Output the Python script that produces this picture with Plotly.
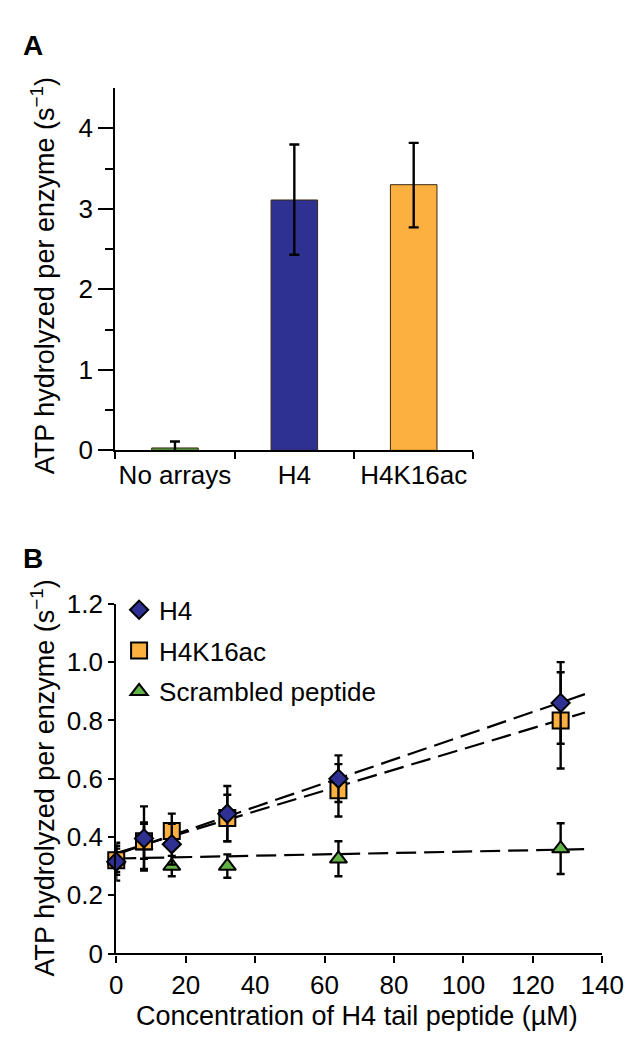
import plotly.graph_objects as go

W, H = 644, 1045

# ---------------- Panel A data ----------------
cat_a = ["No arrays", "H4", "H4K16ac"]
val_a = [0.03, 3.11, 3.30]
err_a_plus = [0.08, 0.69, 0.52]
err_a_minus = [0.08, 0.68, 0.53]
col_a = ["#4f9a3f", "#2e3192", "#fbb040"]
ytick_a_vals = [0, 1, 2, 3, 4]
ytick_a_text = ["0", "1", "2", "3", "4"]
ytick_a_minor = [0.5, 1.5, 2.5, 3.5]

# ---------------- Panel B data ----------------
conc = [0, 8, 16, 32, 64, 128]
h4_val = [0.315, 0.395, 0.375, 0.480, 0.600, 0.860]
h4_err = [0.065, 0.110, 0.070, 0.095, 0.080, 0.140]
ac_val = [0.320, 0.385, 0.420, 0.465, 0.560, 0.800]
ac_err = [0.050, 0.060, 0.060, 0.080, 0.090, 0.165]
sc_val = [0.320, 0.370, 0.300, 0.300, 0.325, 0.360]
sc_err = [0.040, 0.080, 0.035, 0.040, 0.060, 0.087]
series_names = ["H4", "H4K16ac", "Scrambled peptide"]
series_colors = ["#2e3192", "#fbb040", "#62b346"]
series_symbols = ["diamond", "square", "triangle-up"]
series_sizes = [14, 16, 15]
# fitted trend lines: value at x=0 and x=135
trend_x = [0, 135]
trend_h4 = [0.340, 0.890]
trend_ac = [0.345, 0.827]
trend_sc = [0.326, 0.358]
xtick_b = [0, 20, 40, 60, 80, 100, 120, 140]
ytick_b_vals = [0, 0.2, 0.4, 0.6, 0.8, 1.0, 1.2]
ytick_b_text = ["0", "0.2", "0.4", "0.6", "0.8", "1.0", "1.2"]

FONT = "Liberation Sans, Arial, sans-serif"
FS = 26

def px(v):
    return v / W

def py(v):
    return 1 - v / H

fig = go.Figure()

# Panel A bars
fig.add_trace(go.Bar(
    x=cat_a, y=val_a, width=0.39,
    marker=dict(color=col_a, line=dict(color="#3a2a10", width=1)),
    error_y=dict(type="data", array=err_a_plus, arrayminus=err_a_minus,
                 symmetric=False, color="black", thickness=2.4, width=5),
    xaxis="x", yaxis="y", showlegend=False,
))

# Panel B trend lines
for tv in (trend_h4, trend_ac, trend_sc):
    fig.add_trace(go.Scatter(
        x=trend_x, y=tv, mode="lines",
        line=dict(color="black", width=2.2, dash="20px,8px"),
        xaxis="x2", yaxis="y2", showlegend=False, hoverinfo="skip",
    ))

# Panel B points (draw in reverse so H4 on top)
vals = [h4_val, ac_val, sc_val]
errs = [h4_err, ac_err, sc_err]
order = [2, 1, 0]
for i in order:
    fig.add_trace(go.Scatter(
        x=conc, y=vals[i], mode="markers", name=series_names[i],
        legendgroup=series_names[i], legendrank=i,
        marker=dict(symbol=series_symbols[i], size=series_sizes[i],
                    color=series_colors[i], line=dict(color="black", width=2)),
        error_y=dict(type="data", array=errs[i], color="black", thickness=2.4, width=4),
        xaxis="x2", yaxis="y2", cliponaxis=False,
    ))

axis_common = dict(showline=True, linecolor="black", linewidth=2.2, ticks="outside",
                   tickcolor="black", tickwidth=2.2, showgrid=False, zeroline=False,
                   tickangle=0,
                   tickfont=dict(family=FONT, size=FS, color="black"))

fig.update_layout(
    width=W, height=H,
    margin=dict(l=0, r=0, t=0, b=0),
    paper_bgcolor="white", plot_bgcolor="white",
    font=dict(family=FONT, size=FS, color="black"),
    xaxis=dict(domain=[px(105), px(480)], anchor="y", type="category",
               tickson="boundaries", ticklen=7, range=[-0.5, 2.5], **axis_common),
    yaxis=dict(domain=[py(440), py(67)], anchor="x", range=[0, 4.5],
               tickvals=ytick_a_vals, ticktext=ytick_a_text, ticklen=15,
               minor=dict(tickvals=ytick_a_minor, ticklen=8, ticks="outside",
                          tickcolor="black", tickwidth=2.2, showgrid=False),
               **axis_common),
    xaxis2=dict(domain=[px(106), px(615)], anchor="y2", range=[0, 140],
                tickvals=xtick_b, ticklen=7, **axis_common),
    yaxis2=dict(domain=[py(958), py(598)], anchor="x2", range=[0, 1.2],
                tickvals=ytick_b_vals, ticktext=ytick_b_text, ticklen=6, **axis_common),
    legend=dict(x=px(109), y=py(580), xanchor="left", yanchor="top",
                bgcolor="rgba(0,0,0,0)", font=dict(family=FONT, size=FS),
                tracegroupgap=4, itemwidth=30),
    annotations=[
        dict(text="<b>A</b>", x=px(6), y=py(5), xref="paper", yref="paper",
             xanchor="left", yanchor="top", showarrow=False,
             font=dict(family=FONT, size=28)),
        dict(text="<b>B</b>", x=px(6), y=py(533), xref="paper", yref="paper",
             xanchor="left", yanchor="top", showarrow=False,
             font=dict(family=FONT, size=28)),
        dict(text="ATP hydrolyzed per enzyme (s<sup>−1</sup>)", textangle=-90,
             x=px(29), y=py(260), xref="paper", yref="paper",
             xanchor="center", yanchor="middle", showarrow=False,
             font=dict(family=FONT, size=27)),
        dict(text="ATP hydrolyzed per enzyme (s<sup>−1</sup>)", textangle=-90,
             x=px(29), y=py(777), xref="paper", yref="paper",
             xanchor="center", yanchor="middle", showarrow=False,
             font=dict(family=FONT, size=27)),
        dict(text="Concentration of H4 tail peptide (µM)",
             x=px(358), y=py(1022), xref="paper", yref="paper",
             xanchor="center", yanchor="middle", showarrow=False,
             font=dict(family=FONT, size=27)),
    ],
)

fig.write_html("out.html")
